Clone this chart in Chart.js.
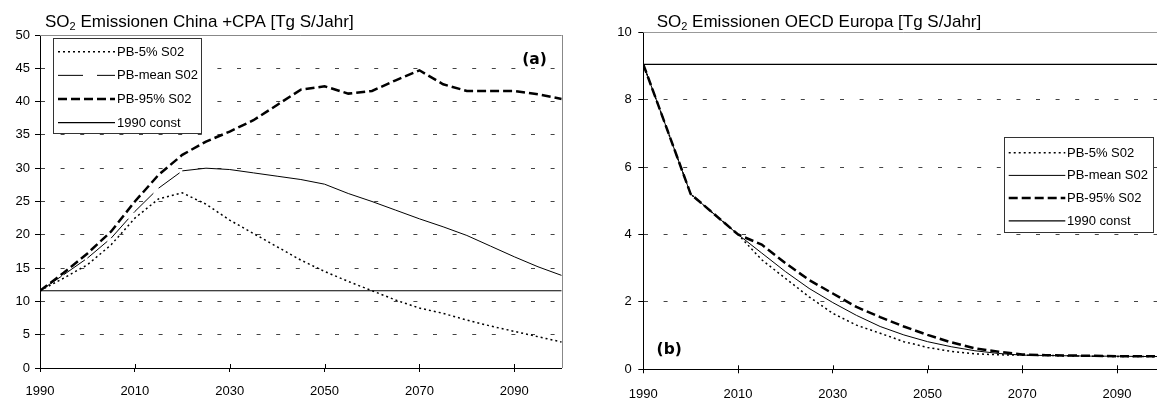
<!DOCTYPE html>
<html>
<head>
<meta charset="utf-8">
<script src="https://cdn.jsdelivr.net/npm/chart.js@4/dist/chart.umd.min.js"></script>
<style>
  html, body { margin: 0; padding: 0; background: #fff; overflow: hidden; width: 1157px; height: 401px; }
  .panel { position: absolute; top: 0; height: 401px; }
  #panelA { left: 0; width: 578px; }
  #panelB { left: 578px; width: 600px; }
</style>
</head>
<body>
<div class="panel" id="panelA"><canvas id="chartA" width="578" height="401"></canvas></div>
<div class="panel" id="panelB"><canvas id="chartB" width="600" height="401"></canvas></div>
<script>
// Years of the scenario runs
const years = [1990, 1995, 2000, 2005, 2010, 2015, 2020, 2025, 2030, 2035, 2040, 2045,
               2050, 2055, 2060, 2065, 2070, 2075, 2080, 2085, 2090, 2095, 2100];
const yearTicks = [1990, 2010, 2030, 2050, 2070, 2090];
const seriesNames = ['PB-5% S02', 'PB-mean S02', 'PB-95% S02', '1990 const'];

// China + CPA, Tg S per year
const chinaP5   = [11.6, 13.5, 15.5, 18.5, 22.5, 25.4, 26.3, 24.6, 22.2, 20.2, 18.2, 16.2,
                   14.5, 13.0, 11.6, 10.2, 9.0, 8.2, 7.2, 6.3, 5.5, 4.7, 3.9];
const chinaMean = [11.6, 14.0, 16.5, 19.5, 23.5, 27.0, 29.6, 30.0, 29.8, 29.3, 28.8, 28.3,
                   27.6, 26.2, 25.0, 23.7, 22.4, 21.2, 19.9, 18.3, 16.7, 15.2, 13.9];
const chinaP95  = [11.6, 14.3, 17.2, 20.5, 25.0, 29.0, 32.0, 34.0, 35.5, 37.2, 39.5, 41.8,
                   42.3, 41.2, 41.6, 43.2, 44.7, 42.6, 41.6, 41.6, 41.6, 41.1, 40.4];
const china1990 = [11.6, 11.6, 11.6, 11.6, 11.6, 11.6, 11.6, 11.6, 11.6, 11.6, 11.6, 11.6,
                   11.6, 11.6, 11.6, 11.6, 11.6, 11.6, 11.6, 11.6, 11.6, 11.6, 11.6];

// OECD Europe, Tg S per year
const europeP5   = [9.05, 7.13, 5.2, 4.6, 4.0, 3.25, 2.7, 2.15, 1.66, 1.31, 1.07, 0.82,
                    0.65, 0.53, 0.46, 0.43, 0.42, 0.41, 0.40, 0.39, 0.38, 0.38, 0.37];
const europeMean = [9.05, 7.13, 5.2, 4.6, 4.0, 3.45, 2.9, 2.4, 1.98, 1.6, 1.27, 1.02,
                    0.82, 0.67, 0.55, 0.47, 0.42, 0.41, 0.40, 0.39, 0.39, 0.38, 0.38];
const europeP95  = [9.05, 7.13, 5.2, 4.6, 4.0, 3.7, 3.15, 2.65, 2.25, 1.85, 1.55, 1.27,
                    1.02, 0.80, 0.62, 0.52, 0.44, 0.42, 0.41, 0.40, 0.39, 0.39, 0.38];
const europe1990 = [9.05, 9.05, 9.05, 9.05, 9.05, 9.05, 9.05, 9.05, 9.05, 9.05, 9.05, 9.05,
                    9.05, 9.05, 9.05, 9.05, 9.05, 9.05, 9.05, 9.05, 9.05, 9.05, 9.05];

const FONT = '"Liberation Sans", Arial, sans-serif';

function points(values) {
  return years.map((yr, i) => ({ x: yr, y: values[i] }));
}

// Draws "SO₂ ..." with a real subscript
function drawTitle(ctx, x, y, head, sub, tail) {
  ctx.save();
  ctx.fillStyle = '#000';
  ctx.textBaseline = 'alphabetic';
  ctx.textAlign = 'left';
  ctx.font = '17px ' + FONT;
  ctx.fillText(head, x, y);
  let cx = x + ctx.measureText(head).width;
  ctx.font = '11px ' + FONT;
  ctx.fillText(sub, cx, y + 2.8);
  cx += ctx.measureText(sub).width;
  ctx.font = '17px ' + FONT;
  ctx.fillText(tail, cx, y);
  ctx.restore();
}

const decor = {
  id: 'decor',
  beforeDatasetsDraw(chart, args, o) {
    const { ctx, chartArea: a } = chart;
    ctx.save();
    // plot frame (top and right)
    ctx.strokeStyle = o.frameColor;
    ctx.lineWidth = 1;
    ctx.beginPath();
    ctx.moveTo(a.left, Math.round(a.top) + 0.5);
    ctx.lineTo(a.right, Math.round(a.top) + 0.5);
    ctx.moveTo(Math.round(a.right) + 0.5, a.top);
    ctx.lineTo(Math.round(a.right) + 0.5, a.bottom);
    ctx.stroke();
    // inner half of the year tick marks
    const xs = chart.scales.x;
    ctx.strokeStyle = '#000';
    ctx.beginPath();
    xs.ticks.forEach(t => {
      const px = Math.round(xs.getPixelForValue(t.value)) + 0.5;
      ctx.moveTo(px, a.bottom - 4);
      ctx.lineTo(px, a.bottom);
    });
    ctx.stroke();
    ctx.restore();
  },
  afterDraw(chart, args, o) {
    const { ctx } = chart;
    drawTitle(ctx, o.title.x, o.title.y, o.title.head, o.title.sub, o.title.tail);

    // legend box
    const L = o.legend;
    ctx.save();
    ctx.fillStyle = '#fff';
    ctx.fillRect(L.x, L.y, L.w, L.h);
    ctx.strokeStyle = '#333';
    ctx.lineWidth = 1;
    ctx.strokeRect(L.x, L.y, L.w, L.h);
    ctx.font = '13px ' + FONT;
    ctx.textBaseline = 'middle';
    ctx.textAlign = 'left';
    chart.data.datasets.forEach((ds, i) => {
      const ry = L.row0 + i * L.rowStep;
      ctx.save();
      ctx.strokeStyle = ds.borderColor;
      ctx.lineWidth = ds.borderWidth;
      ctx.setLineDash(ds.legendDash || ds.borderDash || []);
      ctx.beginPath();
      ctx.moveTo(L.s1, ry);
      ctx.lineTo(L.s2, ry);
      ctx.stroke();
      ctx.restore();
      ctx.fillStyle = '#000';
      ctx.fillText(ds.label, L.tx, ry + 0.5);
    });
    ctx.restore();

    // panel tag
    ctx.save();
    ctx.font = 'bold 15.5px "DejaVu Sans", sans-serif';
    ctx.fillStyle = '#000';
    ctx.textAlign = 'center';
    ctx.textBaseline = 'middle';
    ctx.fillText(o.tag.text, o.tag.x, o.tag.y);
    ctx.restore();
  }
};

function makeDatasets(p5, mean, p95, base, meanDash, meanLegendDash) {
  return [
    { label: seriesNames[0], data: points(p5), borderColor: '#000', borderWidth: 1.5, borderDash: [2, 3] },
    {
      label: seriesNames[1], data: points(mean), borderColor: '#000', borderWidth: 1,
      borderDash: meanDash, legendDash: meanLegendDash,
      // the long dash restarts at every data point
      segment: { borderDashOffset: c => (c.p0DataIndex % 2 ? 0.001 : 0) }
    },
    { label: seriesNames[2], data: points(p95), borderColor: '#000', borderWidth: 2.5, borderDash: [9, 4] },
    { label: seriesNames[3], data: points(base), borderColor: '#000', borderWidth: 1.2, borderDash: [] }
  ].map(d => Object.assign(d, { fill: false, pointRadius: 0, tension: 0, borderCapStyle: 'butt' }));
}

function makeOptions(cfg) {
  return {
    responsive: false,
    animation: false,
    events: [],
    layout: { padding: { top: cfg.top, right: cfg.right, left: 0, bottom: 0 } },
    scales: {
      x: {
        type: 'linear',
        min: 1990,
        max: 2100,
        afterBuildTicks: s => { s.ticks = yearTicks.map(v => ({ value: v })); },
        afterFit: s => { s.height = cfg.xHeight; },
        grid: { drawOnChartArea: false, drawTicks: true, tickLength: 4, tickColor: '#000', tickWidth: 1 },
        border: { display: true, color: '#000', width: 1 },
        ticks: {
          autoSkip: false, maxRotation: 0, padding: cfg.xPad, color: '#000',
          font: { family: FONT, size: 13 },
          callback: v => String(v)
        }
      },
      y: {
        min: 0,
        max: cfg.yMax,
        afterFit: s => { s.width = cfg.yWidth; },
        ticks: {
          stepSize: cfg.yStep, padding: cfg.yPad, color: '#000',
          font: { family: FONT, size: 13 }
        },
        grid: {
          color: '#444', lineWidth: 1, tickLength: 5, tickColor: '#000', tickWidth: 1,
          tickBorderDash: [], borderDash: [4, 15.6]
        },
        border: { display: true, color: '#000', width: 1, dash: [4, 15.6] }
      }
    },
    plugins: {
      legend: { display: false },
      tooltip: { enabled: false },
      decor: cfg.decor
    }
  };
}

new Chart(document.getElementById('chartA'), {
  type: 'line',
  data: { datasets: makeDatasets(chinaP5, chinaMean, chinaP95, china1990, [26, 8], [25, 14]) },
  options: makeOptions({
    top: 35, right: 16.3, yWidth: 40, xHeight: 33, yMax: 50, yStep: 5, yPad: 5, xPad: 12,
    decor: {
      frameColor: '#888',
      title: { x: 45, y: 27, head: 'SO', sub: '2', tail: ' Emissionen China +CPA [Tg S/Jahr]' },
      legend: { x: 53.5, y: 38.5, w: 148, h: 95, row0: 51.7, rowStep: 23.67, s1: 58, s2: 115, tx: 117 },
      tag: { text: '(a)', x: 534.5, y: 60 }
    }
  }),
  plugins: [decor]
});

new Chart(document.getElementById('chartB'), {
  type: 'line',
  data: { datasets: makeDatasets(europeP5, europeMean, europeP95, europe1990, [], []) },
  options: makeOptions({
    top: 32.3, right: 13.6, yWidth: 65.3, xHeight: 31.7, yMax: 10, yStep: 2, yPad: 6.5, xPad: 13,
    decor: {
      frameColor: '#999',
      title: { x: 78.7, y: 27, head: 'SO', sub: '2', tail: ' Emissionen OECD Europa [Tg S/Jahr]' },
      legend: { x: 426.5, y: 137.5, w: 149, h: 95, row0: 152.7, rowStep: 22.7, s1: 430.7, s2: 487.3, tx: 489 },
      tag: { text: '(b)', x: 91.2, y: 350 }
    }
  }),
  plugins: [decor]
});
</script>
</body>
</html>
